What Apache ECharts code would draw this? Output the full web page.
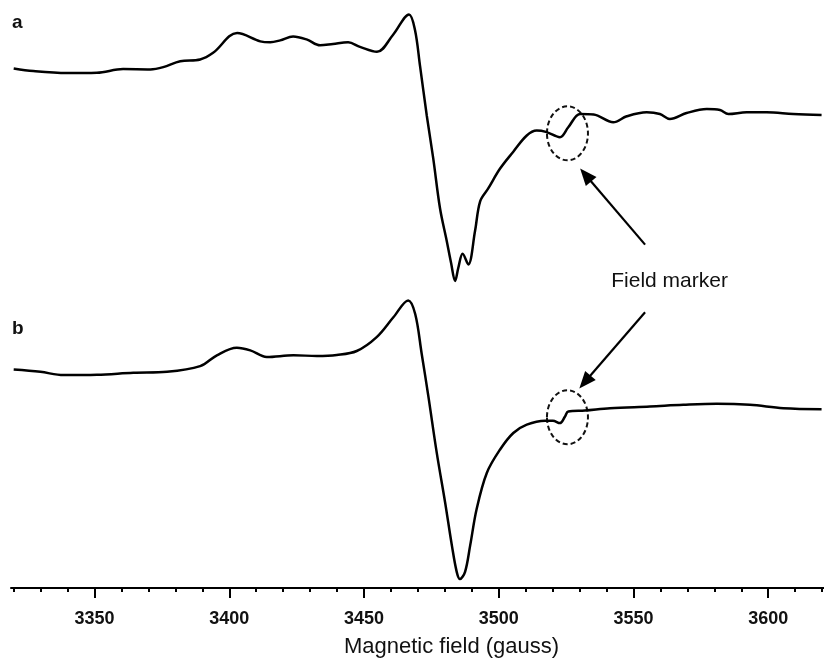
<!DOCTYPE html>
<html><head><meta charset="utf-8">
<script src="https://cdn.jsdelivr.net/npm/echarts@6/dist/echarts.min.js"></script>
<style>html,body{margin:0;padding:0;background:#fff}#c{width:824px;height:663px}</style>
</head><body><div id="c"></div>
<script>
// Spectrum a (field in gauss, signal in arbitrary units incl. vertical offset)
const aField=[3320.0,3327.3,3339.8,3350.9,3360.6,3370.7,3375.5,3381.8,3389.2,3394.0,3402.9,3411.5,3415.2,3418.9,3423.7,3428.9,3433.7,3438.5,3444.1,3448.5,3454.8,3460.8,3466.7,3468.9,3470.8,3473.3,3475.7,3478.2,3480.7,3482.3,3483.8,3485.0,3486.6,3488.7,3491.2,3493.1,3496.1,3500.5,3505.4,3510.4,3514.1,3517.5,3522.7,3525.8,3530.2,3535.2,3542.5,3547.5,3554.9,3559.8,3563.5,3569.7,3577.2,3582.1,3585.2,3592.0,3599.4,3609.3,3619.8];
const aSignal=[524,521.3,519.3,519.7,523.3,523,525.3,531.3,533,539.7,559.7,551.3,550.3,552.3,556.3,553,547.3,548.7,550.3,545.7,540.7,558,578.5,563,526.3,476.3,433,383,350,328,309.7,323,337,326.3,360,390,403,423,440,456.3,461.3,460,454.7,464.7,478,477.5,469.7,475.7,479.7,478,473,479,483,482,478,479.7,479.7,478,477];
// Spectrum b
const bField=[3320.0,3329.9,3338.5,3350.9,3364.4,3376.9,3389.2,3395.4,3402.8,3407.8,3413.9,3423.8,3432.5,3439.9,3447.3,3454.7,3460.9,3466.4,3469.0,3471.4,3473.9,3477.0,3480.1,3482.6,3484.4,3485.6,3487.5,3489.4,3491.8,3495.6,3500.5,3505.4,3510.4,3517.2,3520.1,3522.7,3524.6,3525.8,3532.0,3541.3,3556.1,3568.5,3580.9,3593.2,3605.6,3619.8];
const bSignal=[220.3,218,214.7,215,217,218,223.7,234.7,242.3,239.7,233,234.7,234,235,239,253,273,290,276.3,236.3,193,136.3,86.3,43,16.3,9,16.3,43,79.7,116.3,139.7,156.3,164.7,168.7,168.7,166.3,173,178,179,181.3,183,184.7,185.7,184.7,181.3,180.3];
const majorTicks=[3350,3400,3450,3500,3550,3600];
const minorTicks=[3320,3330,3340,3360,3370,3380,3390,3410,3420,3430,3440,3460,3470,3480,3490,3510,3520,3530,3540,3560,3570,3580,3590,3610,3620];

const FONT='"Liberation Sans", Arial, sans-serif';
const zip=(f,s)=>f.map((x,i)=>[x,s[i]]);
const chart=echarts.init(document.getElementById('c'));
const XMIN=3319, XMAX=3620.7;
chart.setOption({
  animation:false,
  grid:{left:11,right:0,top:0,bottom:70},
  xAxis:[{
    type:'value',min:XMIN,max:XMAX,position:'bottom',
    axisLine:{lineStyle:{color:'#000',width:2}},
    axisTick:{customValues:majorTicks,length:10,lineStyle:{color:'#000',width:2}},
    axisLabel:{customValues:majorTicks,formatter:v=>String(v),margin:22,fontSize:18,fontWeight:'bold',color:'#111',fontFamily:FONT},
    splitLine:{show:false},
    name:'Magnetic field (gauss)',nameLocation:'middle',nameGap:48,
    nameTextStyle:{fontSize:22,color:'#111',fontFamily:FONT,padding:[0,0,0,68]}
  },{
    type:'value',min:XMIN,max:XMAX,position:'bottom',
    axisLine:{show:false},
    axisTick:{customValues:minorTicks,length:4,lineStyle:{color:'#000',width:2}},
    axisLabel:{show:false},splitLine:{show:false}
  }],
  yAxis:{type:'value',min:0,max:593,show:false},
  series:[
    {type:'line',data:zip(aField,aSignal),smooth:0.35,showSymbol:false,lineStyle:{color:'#000',width:2.5}},
    {type:'line',data:zip(bField,bSignal),smooth:0.35,showSymbol:false,lineStyle:{color:'#000',width:2.5}}
  ]
});

const px=(g,v)=>chart.convertToPixel({xAxisIndex:0,yAxisIndex:0},[g,v]);
function arrow(tail,tip){
  const S=px(tail[0],tail[1]),T=px(tip[0],tip[1]);
  const dx=T[0]-S[0],dy=T[1]-S[1],len=Math.hypot(dx,dy);
  const ux=dx/len,uy=dy/len,L=17,W=7;
  const bx=T[0]-ux*L,by=T[1]-uy*L;
  return [
    {type:'line',shape:{x1:S[0],y1:S[1],x2:bx+ux*2,y2:by+uy*2},style:{stroke:'#000',lineWidth:2.2}},
    {type:'polygon',shape:{points:[[T[0],T[1]],[bx-uy*W,by+ux*W],[bx+uy*W,by-ux*W]]},style:{fill:'#000'}}
  ];
}
function ell(g,v){
  const c=px(g,v);
  return {type:'ellipse',shape:{cx:c[0],cy:c[1],rx:20.5,ry:27},style:{fill:'none',stroke:'#111',lineWidth:2,lineDash:[5,3]}};
}
const fm=px(3563.4,309);
chart.setOption({graphic:[
  {type:'text',left:12,top:13,style:{text:'a',font:'bold 19px '+FONT,fill:'#111'}},
  {type:'text',left:12,top:319,style:{text:'b',font:'bold 19px '+FONT,fill:'#111'}},
  ell(3525.5,458.5),
  ell(3525.5,172.2),
  ...arrow([3554.3,346.3],[3530.2,423]),
  ...arrow([3554.3,278],[3529.9,201.3]),
  {type:'text',x:fm[0],y:fm[1],style:{text:'Field marker',font:'21px '+FONT,fill:'#111',align:'center',verticalAlign:'middle'}}
]});
</script></body></html>
